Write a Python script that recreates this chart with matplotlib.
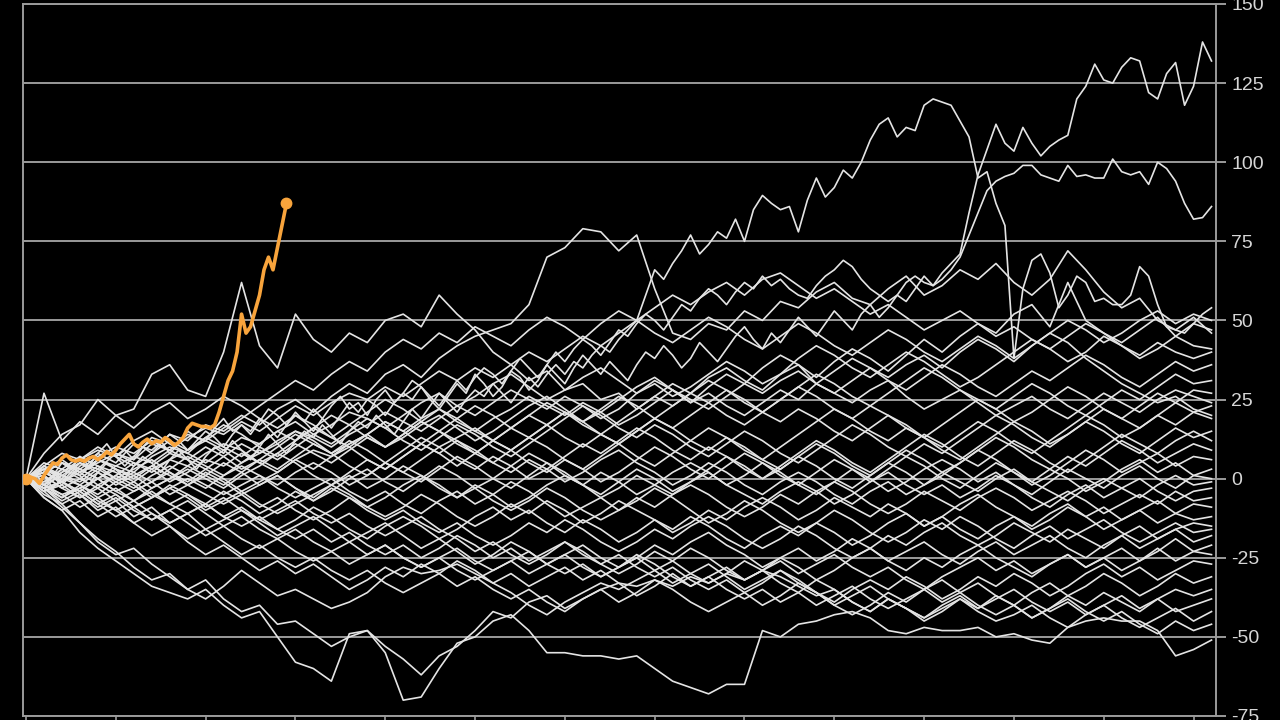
import matplotlib
matplotlib.use("Agg")
import matplotlib.pyplot as plt
import numpy as np

plt.rcParams['font.family'] = ['Liberation Sans', 'DejaVu Sans']

# ---------------- data ----------------
white_days = 264          # each white path spans this many trading days
y_ticks = [-75, -50, -25, 0, 25, 50, 75, 100, 125, 150]
y_tick_labels = ['-75', '-50', '-25', '0', '25', '50', '75', '100', '125', '150']
x_ticks = list(range(0, 261, 20))

# highlighted (orange) path, one value per trading day
orange = [0, 0.5, 0, -1.5, 1, 3, 5, 4.5, 6.5, 7.5, 6, 5.5, 6, 5.5, 6.5, 7, 6, 7, 8.5, 7.5,
          9, 11, 12.5, 14, 11, 10, 11.5, 12.5, 11, 12, 11.5, 13, 12, 10.5, 11.5, 13, 16, 17.5, 17, 16.5,
          16.5, 16, 17, 21, 26, 31, 34, 40, 52, 46, 48, 53, 58, 66, 70, 66, 73, 80, 87]

# white paths (values sampled evenly over the 264 days)
line_a = [0, 2, -2, 1, 5, 3, 7, 4, 8, 11, 7, 9, 6, 10, 13, 12, 8, 11, 15, 13,
          12, 16, 19, 15, 17, 14, 18, 22, 20, 17, 21, 18, 15, 19, 23, 26, 22, 24, 20, 25,
          28, 24, 27, 31, 29, 25, 22, 26, 30, 27, 33, 30, 26, 29, 34, 32, 28, 31, 36, 33,
          30, 35, 39, 36, 33, 37, 34, 31, 36, 40, 38, 42, 39, 35, 38, 43, 40, 37, 41, 45,
          48, 44, 41, 46, 43, 47, 51, 48, 45, 49, 53, 50, 47, 52, 55, 51, 54, 58, 56, 60, 64, 61, 65, 68,
          71, 84, 96, 104, 112, 106, 103.5, 111, 106, 102, 105, 107, 108.5, 120, 124, 131, 126, 125, 130,
          133, 132, 122, 120, 128, 131.5, 118, 124, 138, 132]
line_b = [0, -2, 1, -3, 0, 3, 1, -2, 2, 5, 3, 0, 4, 7, 5, 2, 6, 9, 6, 3,
          7, 10, 8, 12, 9, 6, 10, 14, 11, 8, 12, 15, 13, 17, 14, 11, 15, 18, 16, 20,
          17, 14, 18, 22, 19, 23, 27, 24, 21, 25, 28, 26, 30, 27, 24, 28, 32, 29, 33, 36,
          33, 37, 35, 39, 42, 40,
          44, 47, 50, 58, 66, 63, 68, 72, 77, 71, 74, 78, 76, 82, 75, 85, 89.5, 87, 85, 86,
          78, 88, 95, 89, 92, 97.5, 95, 100, 107, 112, 114, 108, 111, 110, 118, 120, 119, 118, 113, 108,
          95, 97, 87, 80, 38, 60, 69, 71, 65, 54, 58, 64, 62, 56, 57, 55, 55, 58, 67, 64,
          55, 48, 47, 46, 49, 52, 54]
line_c = [0, 1, 4, 2, -1, 2, 5, 3, 6, 9, 7, 4, 7, 10, 8, 11, 14, 12, 9, 12,
          15, 13, 10, 14, 17, 15, 19, 16, 13, 17, 20, 18, 22, 19, 16, 20, 24, 21, 25, 23,
          20, 24, 27, 25, 29, 26, 23, 27, 31, 28, 32, 35, 33, 30, 34, 38, 35, 32, 36, 40,
          37, 41, 44, 42, 39, 43, 47, 45, 49, 52, 50, 47, 51, 55, 53, 57, 60, 58, 55, 59,
          62, 60, 64, 61,
          63, 60, 58, 57, 61, 64, 66, 69, 67, 63, 60, 58, 56, 58, 62, 64, 62, 61, 63, 66,
          70, 77, 84, 91, 94, 95.5, 96.5, 99, 99, 96, 95, 94, 99, 95.5, 96, 95, 95, 101, 97, 96,
          97, 93, 100, 98, 94, 87, 82, 82.5, 86]
line_d = [0, -3, 2, 5, 3, 8, 6, 11, 9, 14, 12, 16, 20, 17, 22, 25, 21, 26, 30, 27,
          33, 36, 32, 38, 42, 45, 47, 49, 55, 70, 73, 79, 78, 72, 77, 60, 46, 44, 49, 47,
          53, 50, 56, 54, 59, 62, 57, 55, 60, 64, 58, 61, 66, 63, 68, 62, 58, 63, 72, 66,
          59, 54, 57, 50, 47, 51, 46]
line_s = [0, 8, 14, 17, 25, 20, 22, 33, 36, 28, 26, 40, 62, 42, 35, 52, 44, 40, 46, 43,
          50, 52, 48, 58, 52, 47, 40, 36, 31, 34, 28, 30, 25, 27, 22, 26, 30, 27, 32, 35,
          31, 28, 33, 36, 30, 27, 24, 28, 31, 26, 22, 25, 28, 24, 20, 23, 26, 22, 19, 23,
          27, 24, 21, 25, 28, 26, 24]
line_e1 = [0, 3, -2, 4, 8, 5, 11, 9, 14, 12, 17, 15, 19, 23, 27, 31, 28, 33, 37, 34,
           40, 44, 41, 46, 43, 48, 45, 42, 47, 51, 48, 44, 49, 53, 50, 46, 43, 47, 51, 48,
           44, 41, 45, 49, 46, 42, 39, 43, 47, 44, 40, 37, 41, 45, 42, 38, 42, 46, 50, 47,
           43, 46, 50, 53, 49, 52, 50]
line_e2 = [0, -2, 3, 1, 6, 4, 2, 7, 10, 8, 5, 9, 13, 11, 15, 18, 14, 17, 21, 19,
           16, 20, 24, 27, 23, 26, 30, 33, 29, 25, 28, 32, 35, 31, 27, 30, 26, 29, 33, 37,
           34, 30, 33, 38, 42, 39, 35, 32, 36, 40, 37, 33, 29, 32, 36, 40, 44, 41, 37, 40,
           45, 42, 38, 41, 45, 49, 47]
line_e3 = [0, 2, 5, 3, 0, 4, 7, 5, 9, 6, 3, 7, 11, 8, 12, 15, 13, 10, 14, 17,
           21, 18, 15, 19, 23, 20, 24, 28, 25, 22, 26, 23, 19, 22, 27, 31, 28, 24, 29, 33,
           30, 35, 39, 36, 32, 37, 41, 38, 34, 39, 44, 40, 45, 49, 46, 52, 55, 48, 62, 50,
           46, 43, 47, 51, 45, 42, 41]
line_e4 = [0, -4, -1, 2, -2, 1, 5, 3, -1, 2, 6, 4, 8, 5, 2, 6, 9, 7, 11, 14,
           10, 13, 17, 20, 16, 12, 15, 19, 23, 26, 22, 18, 21, 25, 29, 32, 28, 24, 27, 23,
           20, 24, 28, 25, 30, 34, 38, 35, 31, 28, 32, 36, 33, 29, 26, 30, 34, 31, 35, 39,
           36, 32, 29, 33, 37, 34, 36]
line_e5 = [0, 4, 8, 6, 10, 7, 12, 15, 11, 8, 13, 10, 7, 11, 15, 12, 16, 20, 17, 13,
           10, 14, 18, 22, 19, 15, 12, 16, 20, 24, 21, 17, 14, 18, 22, 26, 23, 27, 31, 28,
           24, 21, 25, 29, 33, 30, 26, 23, 27, 31, 35, 32, 28, 25, 22, 26, 30, 27, 23, 20,
           24, 28, 25, 29, 33, 30, 31]
line_e6 = [0, 1, -3, 0, 4, 2, -1, 3, 6, 4, 8, 11, 9, 5, 8, 12, 16, 13, 17, 21,
           25, 22, 18, 15, 19, 23, 20, 16, 13, 17, 21, 18, 14, 11, 15, 19, 23, 27, 24, 20,
           17, 21, 25, 29, 26, 22, 19, 23, 20, 16, 13, 17, 21, 25, 22, 18, 21, 25, 29, 26,
           22, 19, 23, 27, 24, 28, 27]
line_e7 = [0, -1, 2, 6, 9, 7, 4, 8, 12, 9, 13, 17, 14, 10, 7, 11, 8, 5, 9, 13,
           10, 14, 18, 15, 11, 8, 12, 16, 20, 17, 13, 10, 14, 11, 7, 4, 8, 12, 16, 13,
           9, 6, 10, 14, 18, 22, 19, 15, 12, 16, 13, 9, 6, 10, 14, 18, 15, 11, 14, 18,
           22, 19, 16, 20, 24, 21, 23]
line_e8 = [0, 3, 1, 5, 2, -2, 1, 4, 8, 6, 10, 7, 3, 6, 10, 14, 11, 8, 12, 9,
           5, 2, 6, 10, 13, 16, 12, 9, 13, 17, 21, 18, 22, 26, 23, 19, 16, 20, 24, 28,
           25, 21, 18, 22, 19, 15, 12, 16, 20, 17, 13, 10, 14, 18, 15, 11, 8, 12, 16, 20,
           17, 13, 16, 20, 17, 21, 19]
line_e9 = [0, -3, -6, -2, -5, -1, 2, -1, 3, 7, 4, 1, 5, 9, 6, 10, 14, 11, 15, 19,
           16, 12, 9, 13, 17, 14, 10, 7, 11, 15, 19, 23, 20, 16, 13, 17, 14, 10, 7, 11,
           15, 12, 8, 5, 9, 13, 17, 14, 10, 7, 11, 8, 12, 16, 20, 17, 13, 10, 14, 18,
           15, 11, 8, 12, 16, 13, 15]
line_e10 = [0, 2, -1, -4, 0, 3, 1, -3, 0, 4, 1, -2, 2, 6, 3, 7, 11, 8, 4, 1,
            5, 9, 13, 10, 6, 3, 7, 4, 0, 3, 7, 11, 8, 12, 16, 13, 9, 6, 10, 7,
            3, 0, 4, 8, 12, 9, 5, 2, 6, 10, 14, 11, 7, 4, 8, 12, 9, 5, 2, 6,
            10, 14, 11, 8, 12, 15, 12]
line_e11 = [0, -2, -5, -3, 0, -4, -7, -3, 0, 3, 0, -3, 1, 4, 8, 5, 1, -2, 2, 6,
            3, 7, 11, 15, 12, 8, 5, 9, 13, 10, 6, 3, 7, 11, 15, 19, 16, 12, 9, 13,
            10, 6, 3, 7, 4, 0, -3, 1, 5, 9, 6, 2, 5, 9, 13, 10, 6, 3, 7, 4,
            8, 12, 9, 5, 8, 11, 9]
line_e12 = [0, 5, 3, 7, 4, 0, 3, 6, 2, -1, 3, 0, -4, -1, 2, 6, 3, 7, 10, 6,
            3, 7, 11, 8, 4, 8, 12, 9, 5, 2, 6, 3, -1, 2, 6, 10, 7, 3, 0, 4,
            8, 5, 1, -2, 2, 6, 3, -1, 3, 7, 4, 0, -3, 1, 5, 2, -2, 1, 5, 9,
            6, 2, 5, 8, 4, 7, 6]
line_e13 = [0, -1, 3, 0, -3, 1, -2, -6, -3, 0, -3, 1, 4, 1, -2, 2, 5, 2, -2, 1,
            5, 2, -1, 3, 7, 4, 0, -3, 1, 5, 2, -2, -5, -1, 3, 0, -4, -1, 3, 7,
            4, 0, 3, 7, 11, 8, 4, 1, 5, 2, -2, 1, 5, 9, 6, 2, -1, 3, 0, -4,
            -1, 3, 6, 2, 5, 1, 3]
line_e14 = [0, -4, -2, -6, -3, -7, -4, -1, -5, -2, 2, -1, -5, -2, 1, -3, -7, -4, 0, 3,
            -1, -4, 0, 4, 1, -3, 0, 4, 8, 5, 1, -2, 2, -1, -5, -2, 2, 5, 2, -2,
            1, 5, 2, -2, -5, -1, 3, 0, -4, -1, 3, 6, 3, -1, 2, -2, -5, -1, 3, 0,
            -3, 1, 4, 0, -3, 1, 0]
line_e15 = [0, 2, 5, 2, 6, 3, 0, 4, 1, -2, 1, 5, 2, -2, 1, -3, -6, -2, 1, -3,
            0, 4, 1, -3, -6, -2, -5, -9, -6, -2, 1, -2, -6, -3, 1, -2, -5, -1, 2, -2,
            -5, -8, -4, -1, -4, -8, -5, -1, 2, -2, -5, -2, -6, -3, 1, -2, -6, -9, -5, -2,
            -6, -3, 0, -4, -7, -4, -3]
line_e16 = [0, -3, -1, -4, -8, -5, -9, -6, -3, -6, -10, -7, -4, -8, -11, -8, -5, -2, -5, -9,
            -6, -2, 1, -2, -6, -3, -7, -10, -7, -3, -6, -10, -13, -10, -6, -9, -5, -2, -5, -9,
            -12, -9, -5, -8, -4, -1, -4, -8, -11, -8, -4, -7, -10, -6, -3, -6, -10, -7, -4, -7,
            -11, -8, -5, -8, -4, -7, -6]
line_e17 = [0, 3, 0, -2, 2, -1, -4, -1, 2, -2, -5, -8, -5, -9, -6, -10, -13, -10, -6, -9,
            -12, -9, -5, -8, -12, -15, -12, -8, -11, -7, -10, -14, -11, -7, -10, -13, -17, -14, -10, -13,
            -9, -6, -9, -13, -10, -6, -9, -12, -8, -11, -15, -12, -8, -5, -9, -12, -15, -11, -8, -12,
            -9, -13, -10, -7, -11, -8, -9]
line_e18 = [0, -2, -6, -3, -7, -10, -7, -11, -14, -11, -8, -12, -9, -13, -16, -13, -9, -12, -16, -19,
            -15, -12, -15, -19, -16, -12, -9, -13, -10, -14, -17, -13, -16, -20, -17, -13, -16, -12, -15, -19,
            -22, -18, -15, -18, -14, -17, -21, -18, -14, -11, -15, -12, -16, -19, -15, -12, -16, -13, -9, -12,
            -16, -13, -10, -14, -11, -13, -12]
line_e19 = [0, 1, -3, -6, -2, -5, -9, -6, -2, -5, -8, -4, -7, -11, -8, -4, -7, -3, -6, -10,
            -13, -10, -14, -17, -14, -18, -21, -18, -14, -17, -13, -16, -20, -23, -20, -16, -19, -15, -12, -15,
            -19, -22, -19, -15, -18, -22, -25, -22, -18, -21, -17, -14, -18, -21, -18, -14, -17, -20, -16, -19,
            -22, -18, -15, -19, -16, -14, -15]
line_e20 = [0, -5, -8, -5, -10, -7, -12, -9, -14, -11, -16, -13, -10, -14, -18, -15, -12, -16, -20, -17,
            -14, -18, -22, -19, -23, -27, -24, -20, -23, -27, -24, -21, -25, -28, -25, -21, -24, -20, -17, -21,
            -24, -28, -25, -22, -26, -23, -19, -22, -26, -23, -20, -24, -27, -23, -20, -24, -21, -18, -22, -25,
            -21, -18, -22, -19, -16, -20, -18]
line_e21 = [0, 2, -1, 3, 0, -4, -1, -5, -8, -5, -9, -6, -10, -13, -10, -7, -11, -14, -11, -15,
            -18, -15, -12, -16, -19, -23, -20, -24, -27, -24, -20, -23, -27, -30, -27, -23, -26, -30, -33, -30,
            -26, -29, -25, -28, -32, -29, -25, -22, -26, -29, -25, -28, -24, -21, -25, -28, -31, -27, -24, -28,
            -25, -22, -26, -23, -19, -23, -21]
line_e22 = [0, -3, -7, -4, -8, -12, -9, -13, -10, -14, -18, -15, -19, -22, -19, -23, -26, -23, -20, -24,
            -21, -25, -28, -25, -22, -26, -29, -26, -23, -27, -30, -27, -31, -28, -24, -27, -31, -34, -31, -28,
            -32, -29, -26, -30, -27, -24, -28, -31, -28, -32, -35, -31, -28, -25, -29, -26, -30, -27, -24, -28,
            -25, -29, -26, -22, -26, -23, -24]
line_e23 = [0, 4, 1, -2, -6, -3, -7, -4, -8, -11, -8, -12, -15, -12, -16, -19, -16, -20, -17, -21,
            -24, -21, -25, -22, -18, -21, -25, -22, -26, -23, -20, -24, -27, -24, -28, -31, -28, -32, -35, -32,
            -36, -33, -29, -32, -36, -39, -35, -32, -35, -31, -34, -38, -35, -31, -34, -30, -33, -37, -34, -30,
            -27, -31, -28, -32, -29, -26, -27]
line_e24 = [0, -2, -5, -9, -6, -10, -14, -11, -15, -19, -16, -20, -24, -21, -25, -28, -25, -29, -32, -29,
            -33, -36, -33, -30, -34, -31, -35, -38, -35, -39, -42, -38, -35, -39, -36, -32, -35, -39, -42, -39,
            -36, -40, -37, -33, -36, -40, -43, -40, -36, -39, -35, -32, -36, -33, -37, -40, -36, -33, -37, -34,
            -30, -33, -37, -34, -30, -33, -31]
line_e25 = [0, -6, -10, -7, -12, -9, -14, -18, -15, -20, -24, -21, -25, -29, -26, -30, -27, -31, -35, -32,
            -28, -31, -27, -30, -26, -29, -33, -30, -34, -31, -28, -32, -29, -33, -37, -34, -30, -34, -31, -35,
            -38, -35, -39, -36, -32, -35, -39, -42, -38, -41, -45, -42, -38, -41, -37, -40, -44, -41, -37, -40,
            -36, -39, -42, -38, -35, -37, -35]
line_e26 = [0, -4, -9, -14, -19, -23, -28, -32, -30, -35, -38, -34, -29, -33, -37, -35, -38, -41, -39, -36,
            -31, -28, -30, -29, -27, -30, -33, -36, -40, -43, -39, -36, -33, -35, -32, -29, -33, -30, -27, -31,
            -35, -32, -29, -33, -36, -40, -37, -34, -38, -41, -44, -40, -37, -41, -38, -35, -39, -42, -39, -43,
            -40, -37, -41, -38, -42, -40, -38]
line_e27 = [0, -6, -10, -17, -22, -26, -30, -34, -36, -38, -35, -40, -44, -42, -50, -58, -60, -64, -49, -48,
            -53, -57, -62, -56, -53, -48, -42, -44, -39, -37, -41, -38, -35, -33, -34, -32, -34, -31, -33, -30,
            -32, -29, -31, -34, -37, -35, -39, -42, -38, -41, -44, -41, -38, -42, -45, -43, -40, -44, -47, -43,
            -40, -44, -47, -44, -41, -45, -42]
line_l1 = [0, -3, -8, -14, -20, -24, -22, -27, -31, -35, -32, -38, -42, -40, -46, -45, -49, -53, -50, -48,
           -55, -70, -69, -60, -52, -50, -45, -43, -48, -55, -55, -56, -56, -57, -56, -60, -64, -66, -68, -65,
           -65, -48, -50, -46, -45, -43, -42, -44, -48, -49, -47, -48, -48, -47, -50, -49, -51, -52, -47, -45,
           -44, -45, -45, -48, -56, -54, -51]
line_e28 = [0, 27, 12, 18, 14, 20, 16, 21, 24, 19, 22, 26, 23, 19, 16, 20, 17, 13, 10, 14,
            18, 15, 11, 8, 12, 9, 5, 2, 6, 3, -1, 2, 6, 9, 5, 2, -2, 1, 5, 2,
            -2, -5, -1, 2, -1, -5, -8, -4, -1, -5, -2, 2, -1, -4, 0, 3, -1, -4, -7, -3,
            0, -3, -6, -2, 1, -2, -1]
line_e29 = [0, 2, 5, 3, 7, 10, 8, 12, 9, 13, 16, 14, 18, 15, 19, 23, 20, 24, 27, 25,
            29, 26, 30, 34, 31, 35, 32, 36, 40, 37, 41, 45, 42, 46, 50, 54, 58, 55, 59, 62,
            58, 63, 65, 61, 57, 60, 56, 52, 55, 51, 47, 50, 53, 49, 45, 48, 44, 41, 45, 49,
            46, 42, 39, 43, 40, 38, 40]
line_e30 = [0, -3, -1, -5, -9, -6, -10, -13, -10, -7, -11, -15, -12, -16, -19, -16, -20, -23, -27, -24,
            -21, -25, -28, -25, -29, -32, -29, -26, -30, -27, -24, -28, -31, -28, -25, -29, -26, -22, -25, -29,
            -32, -29, -33, -36, -40, -37, -34, -38, -41, -38, -35, -39, -36, -40, -43, -40, -44, -41, -38, -42,
            -45, -42, -46, -49, -45, -48, -46]
line_e31 = [0, 3, 6, 2, 5, 8, 5, 2, 6, 9, 12, 9, 5, 8, 11, 15, 12, 8, 11, 14,
            18, 15, 19, 22, 18, 15, 19, 22, 26, 23, 20, 24, 21, 17, 20, 24, 28, 25, 22, 26,
            30, 27, 31, 34, 30, 27, 31, 35, 32, 36, 39, 35, 40, 44, 41, 37, 42, 46, 43, 38,
            34, 30, 27, 24, 26, 22, 20]
line_e32 = [0, -2, 1, -1, 3, 0, -3, 1, 4, 1, -2, -5, -2, 1, -3, -6, -3, 0, -4, -7,
            -4, -8, -11, -7, -4, -8, -5, -1, -4, -8, -12, -9, -6, -10, -7, -3, -6, -10, -14, -11,
            -7, -10, -14, -17, -14, -10, -13, -17, -20, -17, -13, -16, -12, -15, -19, -22, -18, -15, -19, -16,
            -13, -17, -20, -17, -14, -17, -16]

white_lines = [line_a, line_b, line_c, line_d, line_s, line_e1, line_e2, line_e3, line_e4,
               line_e5, line_e6, line_e7, line_e8, line_e9, line_e10, line_e11, line_e12,
               line_e13, line_e14, line_e15, line_e16, line_e17, line_e18, line_e19, line_e20,
               line_e21, line_e22, line_e23, line_e24, line_e25, line_e26, line_e27, line_l1,
               line_e28, line_e29, line_e30, line_e31, line_e32]

# ---------------- style ----------------
BG = 'black'
GRID = '#9b9b9b'
WHITE = '#e4e4e4'
ORANGE = '#f8a43c'
LABEL = '#d6d6d6'

fig = plt.figure(figsize=(12.8, 7.2), dpi=100, facecolor=BG)
ax = fig.add_axes([23 / 1280, 4 / 720, (1216 - 23) / 1280, (716 - 4) / 720])
ax.set_facecolor(BG)

for vals in white_lines:
    xs = np.linspace(0, white_days, len(vals))
    ax.plot(xs, vals, color=WHITE, lw=1.2, zorder=2, solid_joinstyle='round')

ox = np.arange(len(orange))
ax.plot(ox, orange, color=ORANGE, lw=2.6, zorder=5, solid_joinstyle='round')
ax.plot([ox[0], ox[-1]], [orange[0], orange[-1]], 'o', color=ORANGE, ms=7.5, zorder=6)

ax.set_xlim(-0.67, 265.0)
ax.set_ylim(-75, 150)

ax.set_yticks(y_ticks)
ax.set_yticklabels(y_tick_labels)
ax.yaxis.tick_right()
ax.set_xticks(x_ticks)
ax.set_xticklabels([])

ax.tick_params(axis='y', length=7, width=1.4, color=GRID, labelcolor=LABEL,
               labelsize=14, pad=4)
ax.tick_params(axis='x', length=3, width=1.2, color=GRID, direction='out')

ax.grid(axis='y', color=GRID, lw=1.4, zorder=1)
ax.set_axisbelow(True)
for side in ['left', 'right', 'top', 'bottom']:
    ax.spines[side].set_color(GRID)
    ax.spines[side].set_linewidth(1.4)

fig.savefig('out.png', dpi=100, facecolor=BG)
